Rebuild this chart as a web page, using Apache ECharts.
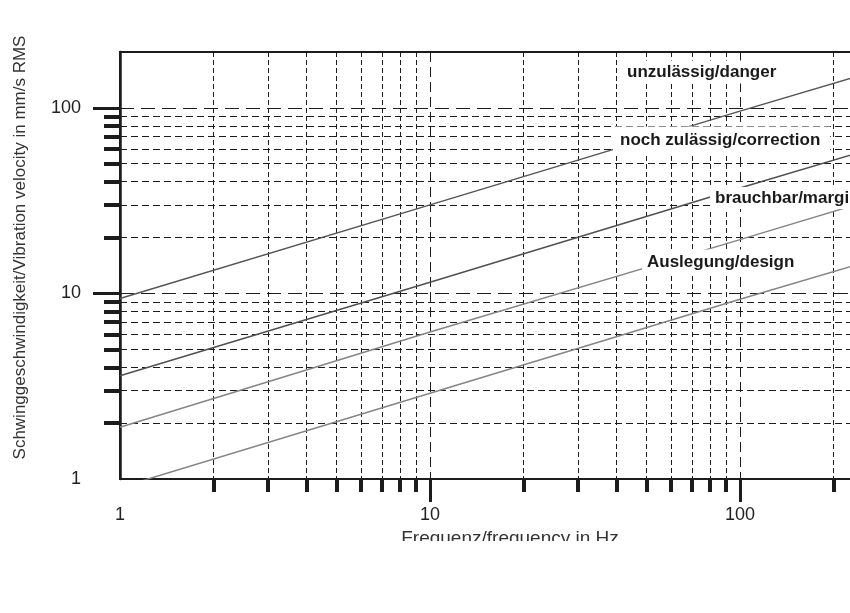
<!DOCTYPE html>
<html>
<head>
<meta charset="utf-8">
<script src="https://cdn.jsdelivr.net/npm/echarts@6/dist/echarts.min.js"></script>
<style>
  html, body { margin: 0; padding: 0; background: #fff; }
  #chart { width: 850px; height: 613px; }
</style>
</head>
<body>
<div id="chart"></div>
<script>
// Frequencies (Hz) at which the zone boundaries are given
const freq = [1, 10, 100, 1000];

// Zone boundaries, vibration velocity in mm/s RMS
const boundDanger     = [9.4, 30, 96, 300];
const boundCorrection = [3.6, 11.5, 37, 116];
const boundMarginal   = [1.9, 6.2, 19.5, 62];
const boundDesign     = [0.9, 2.9, 9.3, 29];

// Axis ticks
const xMajorTicks = [10, 100, 1000];
const xMinorTicks = [2, 3, 4, 5, 6, 7, 8, 9, 20, 30, 40, 50, 60, 70, 80, 90,
                     200, 300, 400, 500, 600, 700, 800, 900];
const xTickLabels = [1, 10, 100, 1000];
const yMajorTicks = [10, 100];
const yMinorTicks = [2, 3, 4, 5, 6, 7, 8, 9, 20, 30, 40, 50, 60, 70, 80, 90];
const yTickLabels = [1, 10, 100];

// Zone names
const zoneNames = ['unzulässig/danger', 'noch zulässig/correction',
                   'brauchbar/marginal', 'Auslegung/design'];

const xTitle = 'Frequenz/frequency in Hz';
const yTitle = 'Schwinggeschwindigkeit/Vibration velocity in mm/s RMS';

const FONT = '"Liberation Sans", Arial, Helvetica, sans-serif';
const INK = '#1c1c1c';

function pairs(values) {
  return freq.map((f, i) => [f, values[i]]);
}

function boundSeries(name, values, color) {
  return {
    name: name,
    type: 'line',
    xAxisIndex: 0,
    yAxisIndex: 0,
    data: pairs(values),
    symbol: 'none',
    showSymbol: false,
    clip: true,
    lineStyle: { color: color, width: 1.5 },
    z: 3
  };
}

// Zone name tags with white boxes that sit over the grid and lines
const tagLayout = [
  { x: 623, y: 72,  padding: [3, 4, 3, 4] },
  { x: 613, y: 140, padding: [5, 10, 5, 7] },
  { x: 710, y: 198, padding: [2, 6, 3, 5] },
  { x: 642, y: 262, padding: [4, 6, 4, 5] }
];

const chart = echarts.init(document.getElementById('chart'), null, { renderer: 'canvas' });

chart.setOption({
  animation: false,
  backgroundColor: '#fff',
  grid: {
    left: 120,
    top: 52,
    width: 930,
    height: 427,
    show: true,
    borderColor: INK,
    borderWidth: 2,
    outerBoundsMode: 'none'
  },
  xAxis: [
    {
      type: 'log',
      logBase: 10,
      min: 1,
      max: 1000,
      position: 'bottom',
      axisLine: { show: true, onZero: false, lineStyle: { color: INK, width: 2 } },
      axisTick: { show: true, customValues: xMajorTicks, length: 23, lineStyle: { color: INK, width: 3 } },
      axisLabel: {
        customValues: xTickLabels,
        margin: 27,
        fontSize: 18,
        fontFamily: FONT,
        color: '#222',
        formatter: (v) => String(v)
      },
      splitLine: { show: true, lineStyle: { color: INK, width: 1, type: [10, 5] } },
      name: xTitle,
      nameLocation: 'middle',
      nameGap: 50,
      nameTextStyle: { fontSize: 19, fontFamily: FONT, color: '#333', padding: [0, 150, 0, 0] }
    },
    {
      type: 'log',
      logBase: 10,
      min: 1,
      max: 1000,
      position: 'bottom',
      axisLine: { show: false, onZero: false },
      axisTick: { show: true, customValues: xMinorTicks, length: 13, lineStyle: { color: INK, width: 4 } },
      axisLabel: { show: false },
      splitLine: { show: true, lineStyle: { color: INK, width: 1, type: [5, 3] } }
    }
  ],
  yAxis: [
    {
      type: 'log',
      logBase: 10,
      min: 1,
      max: 200,
      position: 'left',
      axisLine: { show: true, onZero: false, lineStyle: { color: INK, width: 2.5 } },
      axisTick: { show: true, customValues: yMajorTicks, length: 27, lineStyle: { color: INK, width: 3 } },
      axisLabel: {
        customValues: yTickLabels,
        margin: 39,
        fontSize: 18,
        fontFamily: FONT,
        color: '#222',
        padding: [0, 0, 6, 0],
        formatter: (v) => String(v)
      },
      splitLine: { show: true, lineStyle: { color: INK, width: 1, type: [14, 7] } },
      name: yTitle,
      nameLocation: 'middle',
      nameGap: 91,
      nameTextStyle: { fontSize: 17, fontFamily: FONT, color: '#333', padding: [0, 0, 0, 36] }
    },
    {
      type: 'log',
      logBase: 10,
      min: 1,
      max: 200,
      position: 'left',
      axisLine: { show: false, onZero: false },
      axisTick: { show: true, customValues: yMinorTicks, length: 16, lineStyle: { color: INK, width: 4 } },
      axisLabel: { show: false },
      splitLine: { show: true, lineStyle: { color: INK, width: 1, type: [7, 4] } }
    }
  ],
  series: [
    boundSeries(zoneNames[0], boundDanger, '#555'),
    boundSeries(zoneNames[1], boundCorrection, '#505050'),
    boundSeries(zoneNames[2], boundMarginal, '#858585'),
    boundSeries(zoneNames[3], boundDesign, '#858585')
  ],
  graphic: {
    elements: zoneNames.map((name, i) => ({
      type: 'text',
      x: tagLayout[i].x,
      y: tagLayout[i].y,
      z: 100,
      style: {
        text: name,
        fontSize: 17,
        fontWeight: 'bold',
        fontFamily: FONT,
        fill: '#1a1a1a',
        align: 'left',
        verticalAlign: 'middle',
        backgroundColor: '#fff',
        padding: tagLayout[i].padding
      }
    })).concat([
      {
        // page edge below the axis title
        type: 'rect',
        z: 100,
        shape: { x: 0, y: 541, width: 850, height: 72 },
        style: { fill: '#fff' }
      }
    ])
  }
});
</script>
</body>
</html>
